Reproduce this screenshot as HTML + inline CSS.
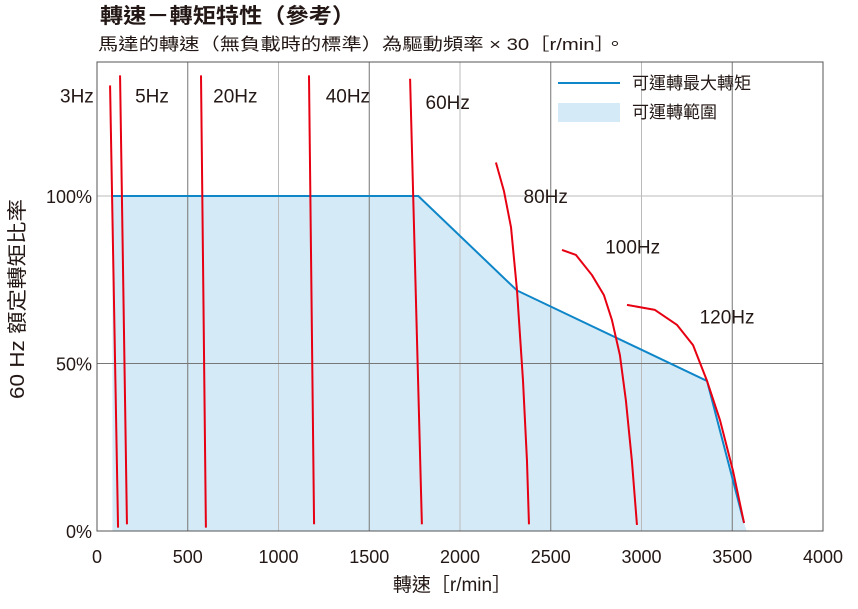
<!DOCTYPE html>
<html><head><meta charset="utf-8">
<style>
body{margin:0;background:#fff;}
svg text{font-family:"Liberation Sans","Noto Sans CJK TC",sans-serif;fill:#231815;}
</style></head>
<body>
<svg id="chart" width="858" height="604" viewBox="0 0 858 604" xmlns="http://www.w3.org/2000/svg">
<text x="100" y="23" font-size="21" font-weight="bold" textLength="255" lengthAdjust="spacingAndGlyphs">轉速－轉矩特性（參考）</text>
<text x="98" y="50" font-size="17" textLength="527" lengthAdjust="spacingAndGlyphs">馬達的轉速（無負載時的標準）為驅動頻率 × 30［r/min］。</text>
<path id="area" fill="#d4eaf7"/>
<g id="gridlines"></g>
<rect x="97" y="62" width="726" height="469" fill="none" stroke="#555" stroke-width="1"/>
<polyline id="envelope" fill="none" stroke="#0e86c8" stroke-width="2"/>
<g id="curves"></g>
<g id="labels"></g>
<g id="ticks"></g>
<line x1="558" y1="83" x2="620" y2="83" stroke="#0e86c8" stroke-width="2"/>
<text x="632" y="89" font-size="17">可運轉最大轉矩</text>
<rect x="558" y="103" width="62" height="19" fill="#d4eaf7"/>
<text x="632" y="118" font-size="17">可運轉範圍</text>
<text x="452" y="591" font-size="19" text-anchor="middle">轉速［r/min］</text>
<text transform="translate(24,299) rotate(-90)" font-size="20" text-anchor="middle" textLength="200" lengthAdjust="spacingAndGlyphs">60 Hz 額定轉矩比率</text>
</svg>
<script>
const xTicks=[0,500,1000,1500,2000,2500,3000,3500,4000];
const yTicks=[0,50,100];
const yTickLabels=["0%","50%","100%"];
const envRpm=[85,1770,2314,3361,3565,3580];
const envPct=[100,100,71.8,44.8,2.4,0];
const freqLabels=["3Hz","5Hz","20Hz","40Hz","60Hz","80Hz","100Hz","120Hz"];
const curveRpm=[
 [72,116],[127,165],[573,600],[1168,1196],[1725,1790],
 [2198,2242,2281,2314,2347,2369,2380],
 [2562,2639,2727,2793,2837,2881,2914,2947,2975],
 [2920,3074,3196,3284,3361,3433,3504,3565]];
const curvePct=[
 [133,1],[136,2],[136,1],[136,2],[135,2],
 [110,101.5,90.7,71.9,45,21,2],
 [83.9,82.4,76.4,70.4,63,52.5,39,21,1.8],
 [67.5,66,61.5,55.5,44.8,33,18,2.4]];
const labelRpm=[-100,210,640,1260,1810,2350,2800,3320];
const labelPct=[130,130,130,130,128,100,85,64];

const NS="http://www.w3.org/2000/svg";
const X=r=>97+r*726/4000;
const Y=p=>531-p*335/100;
function mk(tag,attrs,parent){const e=document.createElementNS(NS,tag);for(const k in attrs)e.setAttribute(k,attrs[k]);document.getElementById(parent).appendChild(e);return e;}

xTicks.forEach((t,i)=>{
 if(i>0&&i<xTicks.length-1){const l=mk('line',{x1:X(t),x2:X(t),y1:62,y2:531,stroke:i%2?'#777':'#bbb','stroke-width':1},'gridlines');
 
 }
 const tx=mk('text',{x:X(t),y:563,'font-size':18,'text-anchor':'middle'},'ticks');tx.textContent=t;
 
 
});
yTicks.forEach((t,i)=>{
 if(t>0){const l=mk('line',{x1:97,x2:823,y1:Y(t),y2:Y(t),stroke:i===2?'#bbb':'#777','stroke-width':1},'gridlines');
 
 }
 const tx=mk('text',{x:92,y:Y(t)+7,'font-size':18,'text-anchor':'end'},'ticks');tx.textContent=yTickLabels[i];
 
 
});
const pts=envRpm.map((r,i)=>X(r)+','+Y(envPct[i]));
document.getElementById('envelope').setAttribute('points',pts.slice(0,5).join(' '));
document.getElementById('area').setAttribute('d','M'+X(envRpm[0])+','+Y(0)+' L'+pts.join(' L')+' Z');
curveRpm.forEach((rs,ci)=>{
 const p=mk('polyline',{points:rs.map((r,i)=>X(r)+','+Y(curvePct[ci][i])).join(' '),fill:'none',stroke:'#e60012','stroke-width':2,'stroke-linejoin':'round'},'curves');
 
 
 const tx=mk('text',{x:X(labelRpm[ci]),y:Y(labelPct[ci])+7,'font-size':19},'labels');
 tx.textContent=freqLabels[ci];
 
 
 if(ci===0){tx.setAttribute('x',60);}
});
</script>
</body></html>
